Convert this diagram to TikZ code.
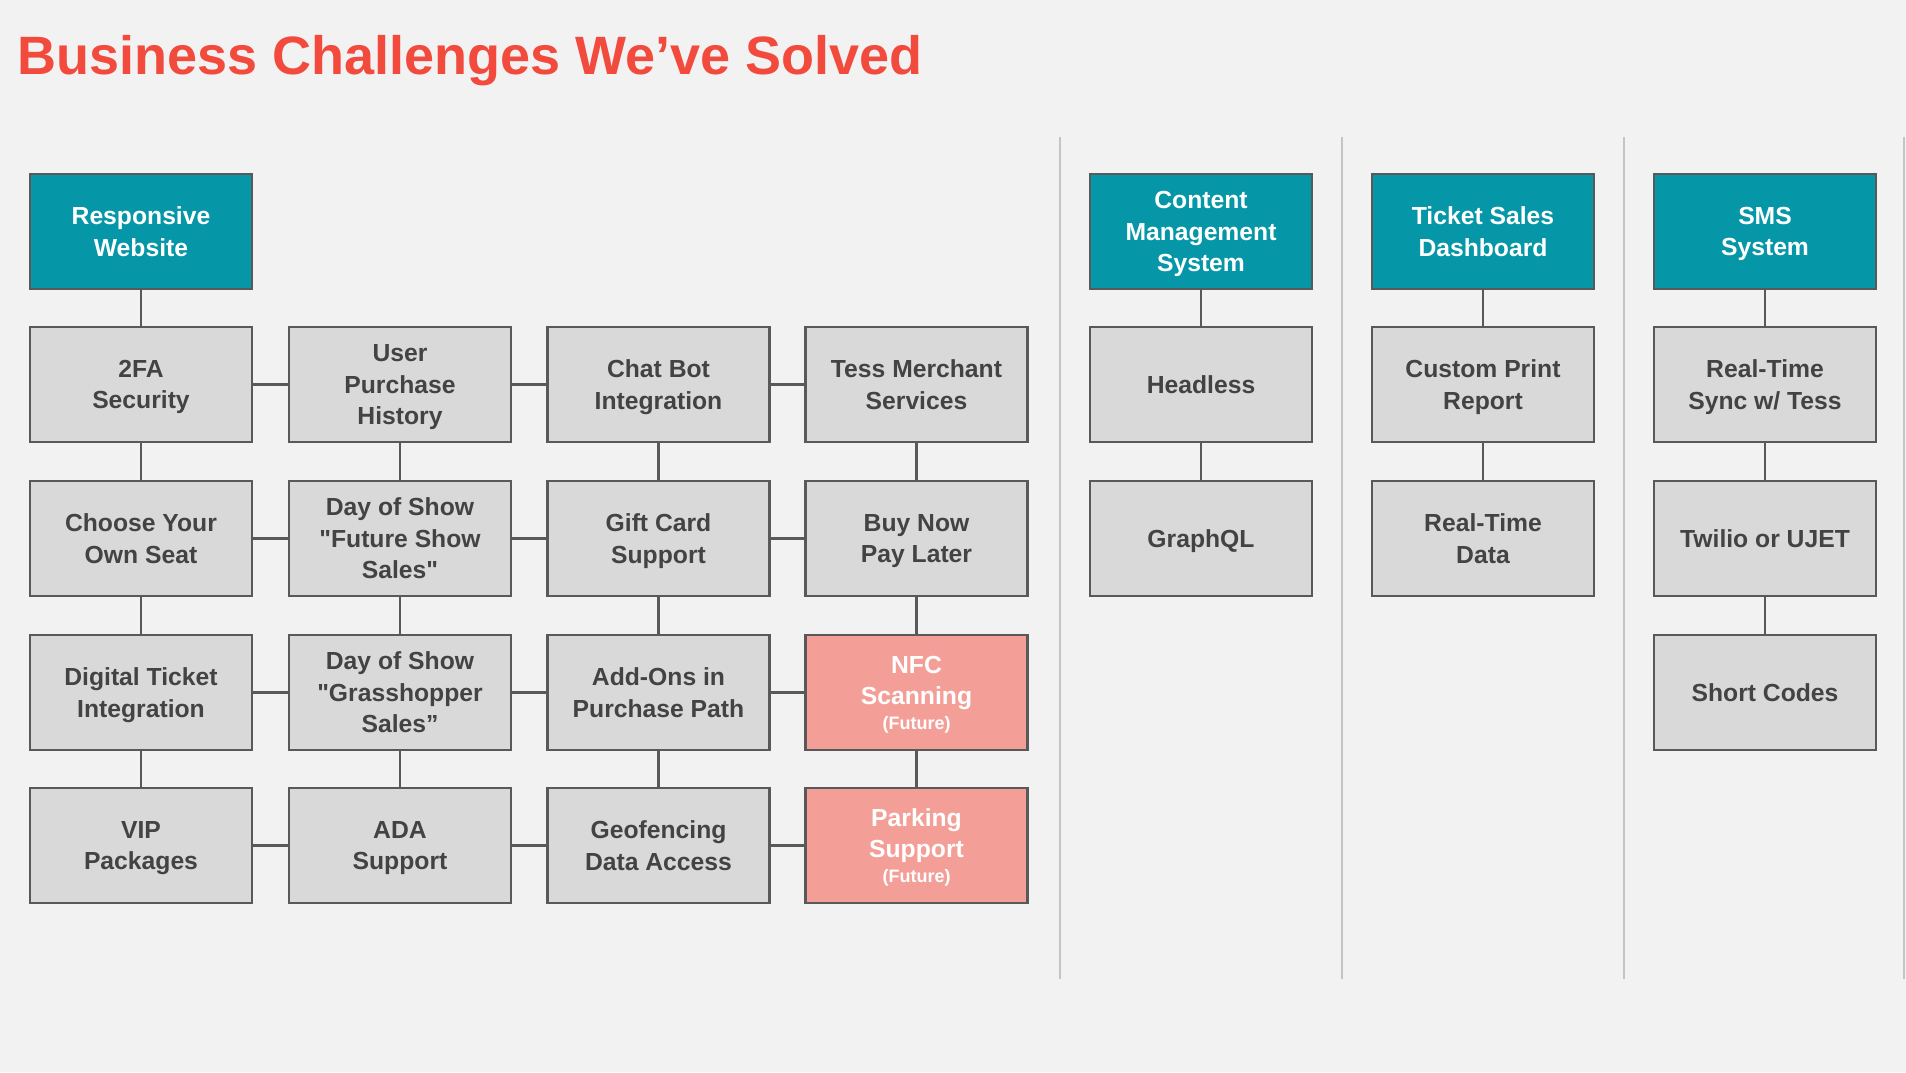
\documentclass[tikz,border=0pt]{standalone}
\usepackage{fontspec}
\setmainfont{Liberation Sans}[Ligatures=TeXOff]
\definecolor{bgc}{HTML}{F1F2F1}
\definecolor{titlec}{HTML}{F24A3D}
\definecolor{tealc}{HTML}{0597A7}
\definecolor{grayf}{HTML}{D9D9D9}
\definecolor{linec}{HTML}{595959}
\definecolor{txtc}{HTML}{434343}
\definecolor{pinkc}{HTML}{F39F98}
\definecolor{sepc}{HTML}{C4C4C4}
\tikzset{
  base/.style={draw=linec, line width=2.5pt, minimum width=222pt, minimum height=115pt,
    inner sep=0pt, align=center, text depth=0pt, font=\bfseries\fontsize{24.7}{31.5}\selectfont},
  head/.style={base, fill=tealc, text=white},
  item/.style={base, fill=grayf, text=txtc},
  future/.style={base, fill=pinkc, text=white},
  conn/.style={draw=linec, line width=2.3pt},
  sep/.style={draw=sepc, line width=2.5pt}
}
\begin{document}
\begin{tikzpicture}[x=1pt,y=-1pt]
\fill[bgc] (0,0) rectangle (1906,1072);
\useasboundingbox (0,0) rectangle (1906,1072);

\node[anchor=base west, inner sep=0pt, text=titlec, font=\bfseries\fontsize{54}{60}\selectfont] (title) at (17,74) {Business Challenges We’ve Solved};

% separators
\foreach \sx in {1060,1342,1624,1904} { \draw[sep] (\sx,137) -- (\sx,979); }

% column 1-4
\node[head] (rw) at (141,231.5) {Responsive\\Website};
\node[item] (fa) at (141,384.5) {2FA\\Security};
\node[item] (uph) at (400,384.5) {User\\Purchase\\History};
\node[item] (cb) at (658.5,384.5) {Chat Bot\\Integration};
\node[item] (tms) at (916.5,384.5) {Tess Merchant\\Services};

\node[item] (cyos) at (141,538.5) {Choose Your\\Own Seat};
\node[item] (dfs) at (400,538.5) {Day of Show\\"Future Show\\Sales"};
\node[item] (gc) at (658.5,538.5) {Gift Card\\Support};
\node[item] (bnpl) at (916.5,538.5) {Buy Now\\Pay Later};

\node[item] (dti) at (141,692.5) {Digital Ticket\\Integration};
\node[item] (dgs) at (400,692.5) {Day of Show\\"Grasshopper\\Sales”};
\node[item] (ao) at (658.5,692.5) {Add-Ons in\\Purchase Path};
\node[future] (nfc) at (916.5,692.5) {NFC\\Scanning\\[-7pt]{\fontsize{18}{22}\selectfont (Future)}};

\node[item] (vip) at (141,845.5) {VIP\\Packages};
\node[item] (ada) at (400,845.5) {ADA\\Support};
\node[item] (geo) at (658.5,845.5) {Geofencing\\Data Access};
\node[future] (park) at (916.5,845.5) {Parking\\Support\\[-7pt]{\fontsize{18}{22}\selectfont (Future)}};

% columns 5-7
\node[head] (cms) at (1201,231.5) {Content\\Management\\System};
\node[item] (hl) at (1201,384.5) {Headless};
\node[item] (gql) at (1201,538.5) {GraphQL};

\node[head] (tsd) at (1483,231.5) {Ticket Sales\\Dashboard};
\node[item] (cpr) at (1483,384.5) {Custom Print\\Report};
\node[item] (rtd) at (1483,538.5) {Real-Time\\Data};

\node[head] (sms) at (1765,231.5) {SMS\\System};
\node[item] (rts) at (1765,384.5) {Real-Time\\Sync w/ Tess};
\node[item] (tw) at (1765,538.5) {Twilio or UJET};
\node[item] (sc) at (1765,692.5) {Short Codes};

% vertical connectors
\draw[conn] (rw) -- (fa);
\draw[conn] (fa) -- (cyos);
\draw[conn] (cyos) -- (dti);
\draw[conn] (dti) -- (vip);
\draw[conn] (uph) -- (dfs);
\draw[conn] (dfs) -- (dgs);
\draw[conn] (dgs) -- (ada);
\draw[conn] (cb) -- (gc);
\draw[conn] (gc) -- (ao);
\draw[conn] (ao) -- (geo);
\draw[conn] (tms) -- (bnpl);
\draw[conn] (bnpl) -- (nfc);
\draw[conn] (nfc) -- (park);
\draw[conn] (cms) -- (hl);
\draw[conn] (hl) -- (gql);
\draw[conn] (tsd) -- (cpr);
\draw[conn] (cpr) -- (rtd);
\draw[conn] (sms) -- (rts);
\draw[conn] (rts) -- (tw);
\draw[conn] (tw) -- (sc);

% horizontal connectors
\draw[conn] (fa) -- (uph);
\draw[conn] (uph) -- (cb);
\draw[conn] (cb) -- (tms);
\draw[conn] (cyos) -- (dfs);
\draw[conn] (dfs) -- (gc);
\draw[conn] (gc) -- (bnpl);
\draw[conn] (dti) -- (dgs);
\draw[conn] (dgs) -- (ao);
\draw[conn] (ao) -- (nfc);
\draw[conn] (vip) -- (ada);
\draw[conn] (ada) -- (geo);
\draw[conn] (geo) -- (park);
\end{tikzpicture}
\end{document}
